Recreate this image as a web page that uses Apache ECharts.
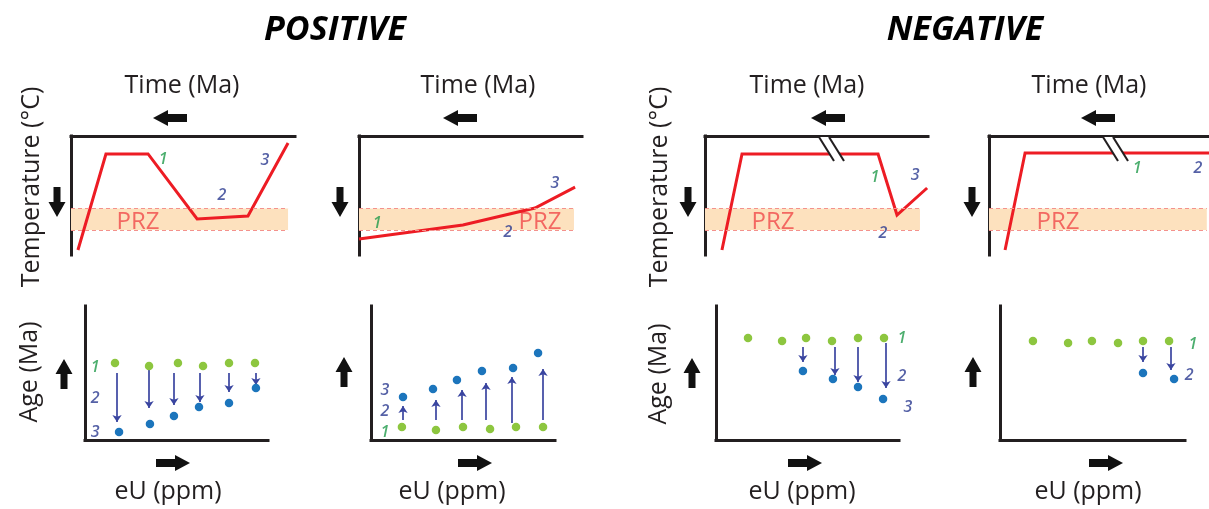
<!DOCTYPE html>
<html><head><meta charset="utf-8">
<script src="https://cdn.jsdelivr.net/npm/echarts@6/dist/echarts.min.js"></script>
<style>html,body{margin:0;padding:0;background:#fff}#c{width:1209px;height:509px}</style>
</head><body><div id="c"></div>
<script>
// ---------------- DATA ----------------
const groupTitles = ['POSITIVE', 'NEGATIVE'];
const przBand = [61, 79];                 // partial retention zone (temperature units, increasing downward)
const przEnd = [96.9, 96.4, 96.4, 99];    // time extent of the PRZ band in each t-T panel

// thermal histories (time position 0-100, temperature 0-100 increasing downward)
const pathA_time = [3.1, 15.6, 34.4, 56.3, 79.0, 96.9];
const pathA_temp = [95.8, 15.1, 15.1, 69.7, 67.2, 5.9];
const pathB_time = [0, 46.6, 78.9, 96.9];
const pathB_temp = [86.6, 74.8, 60.5, 42.9];
const pathC_time = [7.6, 16.6, 77.6, 86.1, 99.6];
const pathC_temp = [95.8, 15.1, 15.1, 66.4, 43.7];
const pathD_time = [7.3, 16.4, 100];
const pathD_temp = [95.8, 14.3, 14.3];

// age vs eU: stage 1 (green) and final stage (blue)
const eU1_A = [16.4, 35.0, 50.8, 64.5, 78.7, 92.9];
const age1_A = [57.5, 55.2, 57.5, 55.2, 57.5, 57.5];
const eU3_A = [18.6, 35.5, 48.6, 62.3, 78.7, 93.4];
const age3_A = [6.0, 11.9, 17.9, 24.6, 27.6, 38.8];
const arrowEU_A = [17.5, 35.0, 48.6, 62.8, 78.7, 93.4];
const arrowFrom_A = [50.0, 52.2, 50.0, 50.0, 50.0, 50.0];
const arrowTo_A = [13.4, 23.9, 26.1, 28.4, 35.8, 41.0];

const eU1_B = [16.8, 35.3, 50.0, 64.7, 78.8, 93.5];
const age1_B = [9.7, 7.5, 9.7, 8.2, 9.7, 9.7];
const eU3_B = [17.4, 33.7, 46.7, 60.3, 77.2, 90.8];
const age3_B = [32.1, 38.1, 44.8, 51.5, 53.7, 64.9];
const arrowEU_B = [17.4, 35.3, 49.5, 62.5, 76.6, 93.5];
const arrowFrom_B = [14.9, 14.9, 14.9, 14.9, 12.7, 14.9];
const arrowTo_B = [25.4, 29.9, 37.3, 42.5, 47.0, 53.0];

const eU1_C = [17.5, 36.1, 49.2, 63.4, 77.6, 91.8];
const age1_C = [76.1, 73.9, 76.1, 73.9, 76.1, 76.1];
const eU3_C = [47.5, 63.9, 77.6, 91.3];
const age3_C = [51.5, 45.5, 39.6, 30.6];
const arrowEU_C = [47.5, 65.0, 77.6, 92.9];
const arrowFrom_C = [69.4, 69.4, 69.4, 72.4];
const arrowTo_C = [58.2, 48.5, 43.3, 38.8];

const eU1_D = [17.8, 36.8, 49.7, 63.8, 77.3, 91.4];
const age1_D = [73.9, 72.4, 73.9, 72.4, 73.9, 73.9];
const eU3_D = [77.3, 94.1];
const age3_D = [50.0, 45.5];
const arrowEU_D = [77.3, 92.4];
const arrowFrom_D = [69.4, 69.4];
const arrowTo_D = [58.2, 52.2];

// stage numbers and where they sit (in data units)
const stageNames = ['1', '2', '3'];
const stageAt_TA = [[41.1, 19.3], [67.4, 49.6], [86.6, 20.2]];
const stageAt_TB = [[8.1, 73.1], [66.8, 80.7], [87.9, 39.5]];
const stageAt_TC = [[76.2, 34.5], [79.8, 81.5], [94.2, 32.8]];
const stageAt_TD = [[67.3, 26.9], [95.0, 26.9]];
const stageAt_BA = [[5.5, 54.5], [5.5, 31.3], [5.5, 6.0]];
const stageAt_BB = [[7.6, 6.0], [7.6, 21.6], [7.6, 37.3]];
const stageAt_BC = [[101.6, 76.1], [101.6, 47.8], [104.9, 24.6]];
const stageAt_BD = [[104.3, 71.6], [102.2, 48.5]];
const przLabelAt = [[29.9, 72.3], [81.2, 72.3], [30.5, 72.3], [31.4, 72.3]];

const timeLabel = 'Time (Ma)', tempLabel = 'Temperature (°C)', ageLabel = 'Age (Ma)', euLabel = 'eU (ppm)';

// ---------------- LAYOUT / STYLE ----------------
const FONT = 'Open Sans';
const C_AXIS = '#231f20', C_RED = '#ed1c24', C_GREEN = '#8dc63f', C_BLUE = '#1c75bc',
      C_NUM_G = '#1f9a4a', C_NUM_B = '#2b3990', C_ARROW = '#3a45a0', C_PRZ = '#fde1be', C_PRZL = '#f4928c';

const topGrids = [
  {left: 71, top: 136, width: 224, height: 119},
  {left: 359, top: 136, width: 223, height: 119},
  {left: 705, top: 136, width: 223, height: 119},
  {left: 989, top: 136, width: 220, height: 119}
];
const botGrids = [
  {left: 85, top: 306, width: 183, height: 134},
  {left: 371, top: 306, width: 184, height: 134},
  {left: 716, top: 306, width: 183, height: 134},
  {left: 1000, top: 306, width: 185, height: 134}
];

const zip = (a, b) => a.map((v, i) => [v, b[i]]);
const axisLine = {show: true, onZero: false, lineStyle: {color: C_AXIS, width: 3, cap: 'square'}};
const bare = {axisTick: {show: false}, axisLabel: {show: false}, splitLine: {show: false}};

const grid = [], xAxis = [], yAxis = [], series = [];

const paths = [[pathA_time, pathA_temp], [pathB_time, pathB_temp], [pathC_time, pathC_temp], [pathD_time, pathD_temp]];
const tStages = [stageAt_TA, stageAt_TB, stageAt_TC, stageAt_TD];
const bPanels = [
  [eU1_A, age1_A, eU3_A, age3_A, arrowEU_A, arrowFrom_A, arrowTo_A, stageAt_BA],
  [eU1_B, age1_B, eU3_B, age3_B, arrowEU_B, arrowFrom_B, arrowTo_B, stageAt_BB],
  [eU1_C, age1_C, eU3_C, age3_C, arrowEU_C, arrowFrom_C, arrowTo_C, stageAt_BC],
  [eU1_D, age1_D, eU3_D, age3_D, arrowEU_D, arrowFrom_D, arrowTo_D, stageAt_BD]
];

function stageSeries(idx, pts) {
  return {
    type: 'scatter', xAxisIndex: idx, yAxisIndex: idx, symbolSize: 0, silent: true, clip: false, z: 6,
    data: pts.map((p, k) => ({
      value: p,
      label: {color: k === 0 ? C_NUM_G : C_NUM_B, formatter: stageNames[k]}
    })),
    label: {show: true, position: 'inside', fontFamily: FONT, fontStyle: 'italic', fontWeight: 600, fontSize: 16}
  };
}

for (let i = 0; i < 4; i++) {
  const idx = i;
  grid.push(topGrids[i]);
  xAxis.push(Object.assign({type: 'value', gridIndex: idx, min: 0, max: 100, position: 'top', axisLine}, bare));
  yAxis.push(Object.assign({type: 'value', gridIndex: idx, min: 0, max: 100, inverse: true, position: 'left', axisLine}, bare));
  // PRZ band
  series.push({
    type: 'line', xAxisIndex: idx, yAxisIndex: idx, silent: true, z: 1,
    data: [[0, przBand[0]]], showSymbol: false, lineStyle: {opacity: 0},
    markArea: {silent: true, itemStyle: {color: C_PRZ}, data: [[{coord: [0, przBand[0]]}, {coord: [przEnd[i], przBand[1]]}]]},
    markLine: {silent: true, symbol: 'none', label: {show: false}, animation: false,
      lineStyle: {type: [4, 3], color: C_PRZL, width: 1},
      data: [[{coord: [0, przBand[0]]}, {coord: [przEnd[i], przBand[0]]}],
             [{coord: [0, przBand[1]]}, {coord: [przEnd[i], przBand[1]]}]]}
  });
  series.push({
    type: 'scatter', xAxisIndex: idx, yAxisIndex: idx, symbolSize: 0, silent: true, z: 2,
    data: [przLabelAt[i]],
    label: {show: true, position: 'inside', formatter: 'PRZ', color: '#f04a4a', fontFamily: FONT, fontSize: 24}
  });
  series.push({
    type: 'line', xAxisIndex: idx, yAxisIndex: idx, silent: true, z: 3, showSymbol: false, symbol: 'none',
    data: zip(paths[i][0], paths[i][1]), lineStyle: {color: C_RED, width: 3, join: 'miter'}
  });
  series.push(stageSeries(idx, tStages[i]));
}

for (let i = 0; i < 4; i++) {
  const idx = 4 + i;
  const [gx, gy, bx, by, ax, af, at, st] = bPanels[i];
  grid.push(botGrids[i]);
  xAxis.push(Object.assign({type: 'value', gridIndex: idx, min: 0, max: 100, position: 'bottom', axisLine}, bare));
  yAxis.push(Object.assign({type: 'value', gridIndex: idx, min: 0, max: 100, position: 'left', axisLine}, bare));
  series.push({
    type: 'lines', coordinateSystem: 'cartesian2d', xAxisIndex: idx, yAxisIndex: idx, silent: true, z: 2,
    symbol: ['none', 'arrow'], symbolSize: 7,
    lineStyle: {color: C_ARROW, width: 1.7, opacity: 1},
    data: ax.map((x, k) => ({coords: [[x, af[k]], [x, at[k]]]}))
  });
  series.push({
    type: 'scatter', xAxisIndex: idx, yAxisIndex: idx, silent: true, z: 3, symbolSize: 8.5,
    itemStyle: {color: C_GREEN, opacity: 1}, data: zip(gx, gy)
  });
  series.push({
    type: 'scatter', xAxisIndex: idx, yAxisIndex: idx, silent: true, z: 3, symbolSize: 8.5,
    itemStyle: {color: C_BLUE, opacity: 1}, data: zip(bx, by)
  });
  series.push(stageSeries(idx, st));
}

// ---------------- DECORATION ----------------
function arrow(cx, cy, dir, len, headLen, headW, shaftW) {
  const h = len / 2;
  let pts = [[h, 0], [h - headLen, -headW / 2], [h - headLen, -shaftW / 2], [-h, -shaftW / 2],
             [-h, shaftW / 2], [h - headLen, shaftW / 2], [h - headLen, headW / 2]];
  const a = {right: 0, down: Math.PI / 2, left: Math.PI, up: -Math.PI / 2}[dir];
  pts = pts.map(([x, y]) => [cx + x * Math.cos(a) - y * Math.sin(a), cy + x * Math.sin(a) + y * Math.cos(a)]);
  return {type: 'polygon', z: 100, silent: true, shape: {points: pts}, style: {fill: '#111'}};
}
function text(x, y, str, size, opts) {
  return Object.assign({type: 'text', x, y, z: 100, silent: true,
    style: Object.assign({text: str, fill: '#231f20', font: size + 'px "' + FONT + '"', textAlign: 'center', textVerticalAlign: 'middle'}, opts && opts.style || {})},
    opts && opts.el || {});
}
function breakMark(x1, yTop, yBot, dx, gap) {
  return [
    {type: 'polygon', z: 99, silent: true, shape: {points: [[x1, yTop], [x1 + gap, yTop], [x1 + gap + dx, yBot], [x1 + dx, yBot]]}, style: {fill: '#fff'}},
    {type: 'line', z: 100, silent: true, shape: {x1: x1, y1: yTop, x2: x1 + dx, y2: yBot}, style: {stroke: C_AXIS, lineWidth: 2}},
    {type: 'line', z: 100, silent: true, shape: {x1: x1 + gap, y1: yTop, x2: x1 + gap + dx, y2: yBot}, style: {stroke: C_AXIS, lineWidth: 2}}
  ];
}

const graphic = [
  text(335, 30, groupTitles[0], 34, {style: {font: 'italic bold 34px "' + FONT + '"', fill: '#000'}}),
  text(965, 30, groupTitles[1], 34, {style: {font: 'italic bold 34px "' + FONT + '"', fill: '#000'}}),
  text(182, 86, timeLabel, 25), text(478, 86, timeLabel, 25), text(807, 86, timeLabel, 25), text(1089, 86, timeLabel, 25),
  text(168, 492, euLabel, 25), text(452, 492, euLabel, 25), text(802, 492, euLabel, 25), text(1088, 492, euLabel, 25),
  text(32, 187, tempLabel, 25, {el: {rotation: Math.PI / 2}}),
  text(660, 187, tempLabel, 25, {el: {rotation: Math.PI / 2}}),
  text(30, 372, ageLabel, 25, {el: {rotation: Math.PI / 2}}),
  text(659, 374, ageLabel, 25, {el: {rotation: Math.PI / 2}}),
  arrow(170, 118, 'left', 34, 15, 16, 8), arrow(460, 118, 'left', 34, 15, 16, 8),
  arrow(828, 118, 'left', 34, 15, 16, 8), arrow(1098, 118, 'left', 34, 15, 16, 8),
  arrow(57, 202, 'down', 30, 15, 17, 7), arrow(340, 202, 'down', 30, 15, 17, 7),
  arrow(688, 202, 'down', 30, 15, 17, 7), arrow(972, 202, 'down', 30, 15, 17, 7),
  arrow(64, 374, 'up', 30, 15, 17, 7), arrow(344, 372, 'up', 30, 15, 17, 7),
  arrow(692, 373, 'up', 30, 15, 17, 7), arrow(973, 372, 'up', 30, 15, 17, 7),
  arrow(173, 463, 'right', 34, 15, 16, 8), arrow(475, 463, 'right', 34, 15, 16, 8),
  arrow(805, 463, 'right', 34, 15, 16, 8), arrow(1106, 463, 'right', 34, 15, 16, 8),
  ...breakMark(819, 137, 161, 15, 10),
  ...breakMark(1103, 137, 161, 15, 10)
];

const chart = echarts.init(document.getElementById('c'), null, {renderer: 'canvas', width: 1209, height: 509});
chart.setOption({
  animation: false,
  backgroundColor: '#fff',
  grid, xAxis, yAxis, series, graphic
});
</script>
</body></html>
